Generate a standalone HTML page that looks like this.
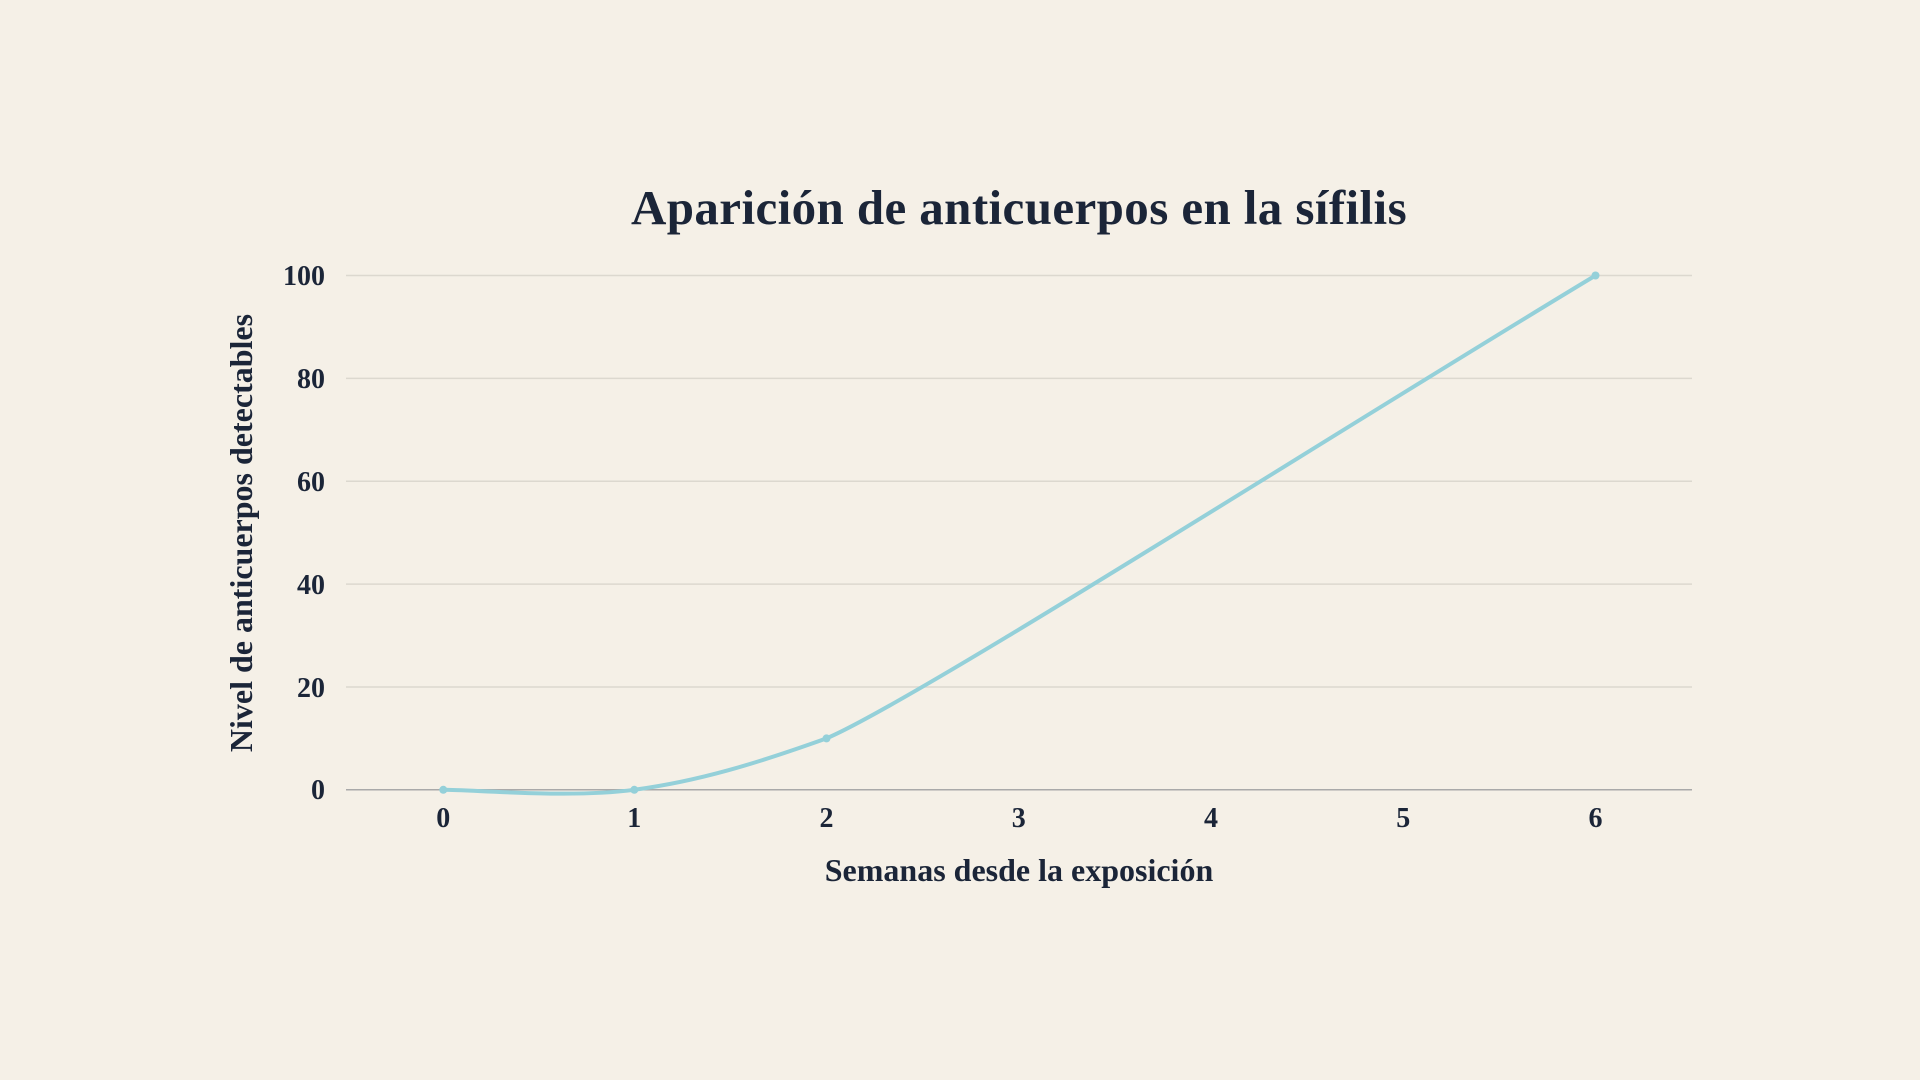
<!DOCTYPE html>
<html><head><meta charset="utf-8"><style>
html,body{margin:0;padding:0;background:#f5f0e7;}
svg{display:block;}
text{font-family:"Liberation Serif",serif;font-weight:bold;fill:#1b2538;}
</style></head><body>
<svg width="1920" height="1080" viewBox="0 0 1920 1080">
<rect width="1920" height="1080" fill="#f5f0e7"/>
<text x="1019" y="224" font-size="49" letter-spacing="0.4" text-anchor="middle">Aparición de anticuerpos en la sífilis</text>
<g stroke="#dcd8cf" stroke-width="1.5">
<line x1="346" x2="1692" y1="275.5" y2="275.5"/>
<line x1="346" x2="1692" y1="378.4" y2="378.4"/>
<line x1="346" x2="1692" y1="481.2" y2="481.2"/>
<line x1="346" x2="1692" y1="584.1" y2="584.1"/>
<line x1="346" x2="1692" y1="687" y2="687"/>
</g>
<line x1="346" x2="1692" y1="789.8" y2="789.8" stroke="#a9a9a9" stroke-width="1.5"/>
<g font-size="28" text-anchor="end">
<text x="325" y="285">100</text>
<text x="325" y="388">80</text>
<text x="325" y="491">60</text>
<text x="325" y="594">40</text>
<text x="325" y="697">20</text>
<text x="325" y="799">0</text>
</g>
<g font-size="28" text-anchor="middle">
<text x="443.3" y="827">0</text>
<text x="634.3" y="827">1</text>
<text x="826.5" y="827">2</text>
<text x="1018.8" y="827">3</text>
<text x="1211" y="827">4</text>
<text x="1403.3" y="827">5</text>
<text x="1595.5" y="827">6</text>
</g>
<text x="1019" y="881" font-size="32" text-anchor="middle">Semanas desde la exposición</text>
<text transform="translate(252,533) rotate(-90)" font-size="32" text-anchor="middle">Nivel de anticuerpos detectables</text>
<path d="M443.3,789.8 C475.1,789.8 570.4,798.4 634.3,789.8 C698.2,781.2 755,764 826.5,738.4 C916.5,700 1339.5,429.5 1595.5,275.5" fill="none" stroke="#94d0d9" stroke-width="4"/>
<g fill="#94d0d9">
<circle cx="443.3" cy="789.8" r="4"/><circle cx="634.3" cy="789.8" r="4"/>
<circle cx="826.5" cy="738.4" r="4"/><circle cx="1595.5" cy="275.5" r="4"/>
</g>
</svg>
</body></html>
